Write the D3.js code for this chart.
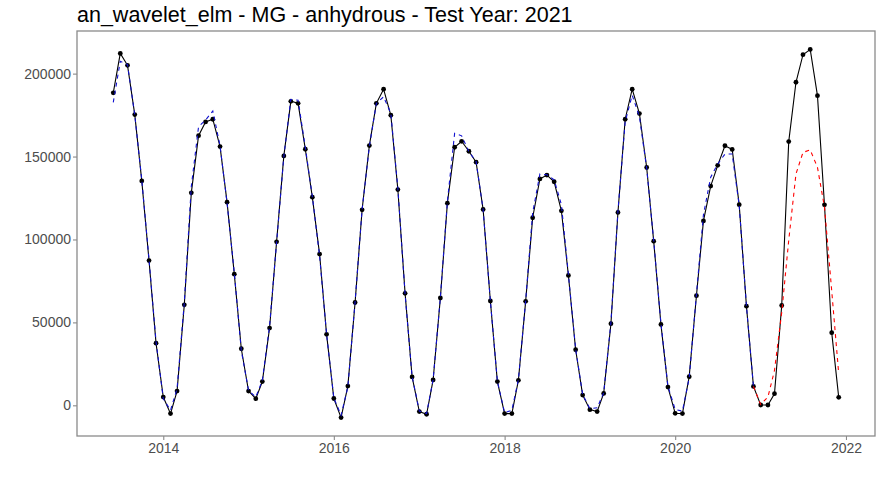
<!DOCTYPE html>
<html>
<head>
<meta charset="utf-8">
<script src="https://cdn.jsdelivr.net/npm/d3@7/dist/d3.min.js"></script>
<style>
  html, body { margin: 0; padding: 0; background: #fff; }
  svg { display: block; font-family: "Liberation Sans", Arial, Helvetica, sans-serif; }
</style>
</head>
<body>
<svg id="chart" width="880" height="480"></svg>
<script>
// ---- Data ----
const titleText = "an_wavelet_elm - MG - anhydrous - Test Year: 2021";
const actualStart = "2013-06-01";   // monthly series, first month
const fittedStart = "2013-06-01";
const forecastStart = "2020-12-01";

const actualValues = [
  188400, 212200, 205000, 175300, 135300, 87300, 37500,
  5000, -5000, 8600, 60600, 128100, 162600, 170900, 172500, 156000, 122500, 79100, 34100,
  8600, 4000, 14300, 46600, 98600, 150400, 183300, 182100, 154400, 125500, 91200, 42800,
  4100, -7400, 11600, 62000, 117900, 156600, 182100, 190600, 174900, 130100, 67500, 17100,
  -3800, -5400, 15300, 64700, 121900, 155600, 159200, 153200, 146600, 118100, 62900, 14300,
  -5000, -5000, 15100, 62700, 113100, 136500, 138800, 134800, 117300, 78300, 33500, 6200,
  -2600, -3800, 7200, 49200, 116300, 172500, 190600, 175900, 143400, 99000, 48800, 11000,
  -4800, -5000, 17300, 66100, 111200, 132200, 144700, 156500, 154300, 121000, 59800, 11400,
  200, 200, 7000, 60200, 159000, 194800, 211400, 214600, 186700, 120900, 43800, 4800
];

const fittedValues = [
  182700, 207500, 205500, 175000, 136000, 88000, 38500,
  4000, -3000, 10000, 62000, 132000, 168000, 172000, 177500, 156500, 122000, 80000, 33000,
  9000, 5000, 15000, 48000, 98000, 150000, 184500, 184000, 155500, 126000, 90000, 43000,
  4500, -6000, 11000, 62500, 118000, 156000, 182000, 186000, 176000, 131000, 67000, 17500,
  -3500, -5000, 15500, 65000, 123000, 164000, 162500, 153000, 147000, 118000, 63000, 14500,
  -4500, -3000, 15500, 63000, 116000, 139500, 139000, 136000, 121000, 79000, 34000, 6500,
  -2000, -1500, 7500, 50000, 117000, 171000, 187000, 174000, 143000, 99500, 49500, 11500,
  -2500, -3500, 16500, 67000, 115000, 137500, 145500, 151500, 151500, 120500, 60000, 11400
];

const forecastValues = [
  11400, 500, 5000, 21000, 56000, 99500, 139500, 152500, 154000, 143500, 119500, 69000, 19000
];

const yTicks = [0, 50000, 100000, 150000, 200000];
const xTickYears = [2014, 2016, 2018, 2020, 2022];

// ---- Build series ----
function monthly(start, values) {
  const s = new Date(start + "T00:00:00");
  return values.map((v, i) => ({ date: d3.timeMonth.offset(s, i), value: v }));
}
const actual = monthly(actualStart, actualValues);
const fitted = monthly(fittedStart, fittedValues);
const forecast = monthly(forecastStart, forecastValues);

// ---- Layout ----
const svg = d3.select("#chart");
const panel = { left: 77, right: 875, top: 31, bottom: 436 };

const all = actual.concat(fitted, forecast);
const xExt = d3.extent(all, d => d.date);
const xSpan = xExt[1] - xExt[0];
const x = d3.scaleTime()
  .domain([new Date(+xExt[0] - xSpan * 0.05), new Date(+xExt[1] + xSpan * 0.05)])
  .range([panel.left, panel.right]);

const yExt = d3.extent(all, d => d.value);
const ySpan = yExt[1] - yExt[0];
const y = d3.scaleLinear()
  .domain([yExt[0] - ySpan * 0.05, yExt[1] + ySpan * 0.05])
  .range([panel.bottom, panel.top]);

// Title
svg.append("text")
  .attr("x", panel.left)
  .attr("y", 22)
  .attr("font-size", 21.5)
  .attr("fill", "#000")
  .text(titleText);

// Axes
const axisColor = "#8a8a8a";
const tickTextColor = "#4d4d4d";

const yAxis = svg.append("g")
  .attr("transform", `translate(${panel.left},0)`)
  .call(d3.axisLeft(y).tickValues(yTicks).tickFormat(d3.format("d")).tickSize(4).tickPadding(2));
yAxis.select(".domain").remove();
yAxis.selectAll(".tick line").attr("stroke", axisColor).attr("stroke-width", 1.1);
yAxis.selectAll(".tick text").attr("fill", tickTextColor).attr("font-size", 14)
  .attr("font-family", "'Liberation Sans', Arial, sans-serif");

const xAxis = svg.append("g")
  .attr("transform", `translate(0,${panel.bottom})`)
  .call(d3.axisBottom(x)
    .tickValues(xTickYears.map(yr => new Date(yr, 0, 1)))
    .tickFormat(d3.timeFormat("%Y")).tickSize(4).tickPadding(3));
xAxis.select(".domain").remove();
xAxis.selectAll(".tick line").attr("stroke", axisColor).attr("stroke-width", 1.1);
xAxis.selectAll(".tick text").attr("fill", tickTextColor).attr("font-size", 14)
  .attr("font-family", "'Liberation Sans', Arial, sans-serif");

// Panel border
svg.append("rect")
  .attr("x", panel.left).attr("y", panel.top)
  .attr("width", panel.right - panel.left)
  .attr("height", panel.bottom - panel.top)
  .attr("fill", "none")
  .attr("stroke", axisColor)
  .attr("stroke-width", 1.3);

const line = d3.line().x(d => x(d.date)).y(d => y(d.value));

const plot = svg.append("g");

// Actual line
plot.append("path")
  .datum(actual)
  .attr("d", line)
  .attr("fill", "none")
  .attr("stroke", "#000")
  .attr("stroke-width", 1.1);

// Points
plot.selectAll("circle.pt")
  .data(actual)
  .join("circle")
  .attr("class", "pt")
  .attr("cx", d => x(d.date))
  .attr("cy", d => y(d.value))
  .attr("r", 2.4)
  .attr("fill", "#000");

// Fitted (dashed blue)
plot.append("path")
  .datum(fitted)
  .attr("d", line)
  .attr("fill", "none")
  .attr("stroke", "#1010d0")
  .attr("stroke-width", 1.1)
  .attr("stroke-dasharray", "4,4");

// Forecast (dashed red)
plot.append("path")
  .datum(forecast)
  .attr("d", line)
  .attr("fill", "none")
  .attr("stroke", "#ff0000")
  .attr("stroke-width", 1.1)
  .attr("stroke-dasharray", "4,4");
</script>
</body>
</html>
